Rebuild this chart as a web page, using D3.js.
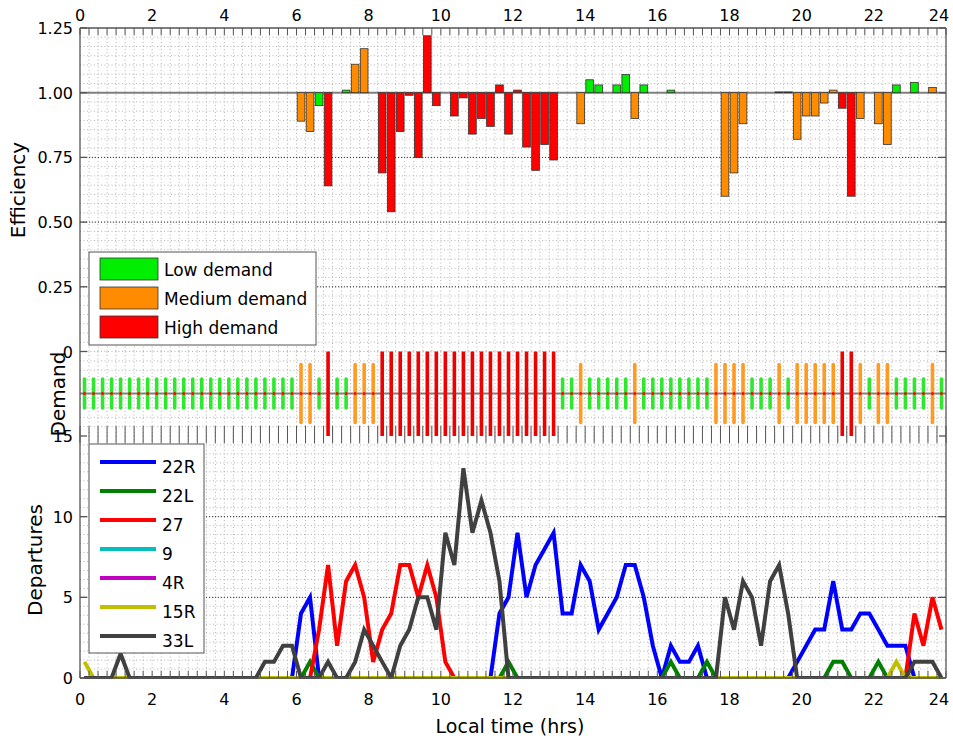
<!DOCTYPE html>
<html>
<head>
<meta charset="utf-8">
<script src="https://cdn.jsdelivr.net/npm/d3@7"></script>
<style>
    body { margin: 0; background: #fff; }
    svg text { font-family: "DejaVu Sans", sans-serif; fill: #000; }
</style>
</head>
<body>
<div id="chart"></div>
<script>
// 15 minute slots over the day, values sit at the slot centre
const slotTimes = d3.range(96).map(i => 0.125 + i * 0.25);

// efficiency per slot (1 = no deviation, no bar drawn)
const efficiency = [
    1,1,1,1, 1,1,1,1, 1,1,1,1, 1,1,1,1, 1,1,1,1, 1,1,1,1,
    0.89,0.85,0.95,0.64, 1,1.01,1.11,1.17, 1,0.69,0.54,0.85, 0.99,0.75,1.22,0.95, 1,0.91,0.98,0.84, 0.90,0.87,1.03,0.84,
    1.01,0.79,0.70,0.80, 0.74,1,1,0.88, 1.05,1.03,1,1.03, 1.07,0.90,1.03,1, 1,1.01,1,1, 1,1,1,0.60,
    0.69,0.88,1,1, 1,1.003,1.003,0.82, 0.91,0.91,0.96,1.01, 0.94,0.60,0.90,1, 0.88,0.80,1.03,1, 1.04,1,1.02,1
];

// demand level per slot: 1 low, 2 medium, 3 high
const demand = [
    1,1,1,1, 1,1,1,1, 1,1,1,1, 1,1,1,1, 1,1,1,1, 1,1,1,1,
    2,2,1,3, 1,1,2,2, 2,3,3,3, 3,3,3,3, 3,3,3,3, 3,3,3,3,
    3,3,3,3, 3,1,1,2, 1,1,1,1, 1,2,1,1, 1,1,1,1, 1,1,2,2,
    2,2,1,1, 1,2,1,2, 2,2,2,2, 3,3,2,1, 2,2,1,1, 1,1,2,1
];
const demandNames = ['Low demand', 'Medium demand', 'High demand'];
const demandColors = ['#00ee00', '#ff8c00', '#ff0000'];
const stemColors = ['#2ee82e', '#ff9a22', '#ee0000'];

// departures per slot for each runway
const runways = ['22R', '22L', '27', '9', '4R', '15R', '33L'];
const runwayColors = ['#0000ff', '#007f00', '#ff0000', '#00bfbf', '#bf00bf', '#bfbf00', '#404040'];
const dep22R = [
    0,0,0,0, 0,0,0,0, 0,0,0,0, 0,0,0,0, 0,0,0,0, 0,0,0,0,
    4,5,0,0, 0,0,0,0, 0,0,0,0, 0,0,0,0, 0,0,0,0, 0,0,4,5,
    9,5,7,8, 9,4,4,7, 6,3,4,5, 7,7,5,2, 0,2,1,1, 2,0,0,0,
    0,0,0,0, 0,0,0,1, 2,3,3,6, 3,3,4,4, 3,2,2,2, 0,0,0,0
];
const dep22L = [
    0,0,0,0, 0,0,0,0, 0,0,0,0, 0,0,0,0, 0,0,0,0, 0,0,0,0,
    0,1,0,0, 0,0,0,0, 0,0,0,0, 0,0,0,0, 0,0,0,0, 0,0,0,1,
    0,0,0,0, 0,0,0,0, 0,0,0,0, 0,0,0,0, 0,1,0,0, 0,1,0,0,
    0,0,0,0, 0,0,0,0, 0,0,0,1, 1,0,0,0, 1,0,0,0, 0,0,0,0
];
const dep27 = [
    0,0,0,0, 0,0,0,0, 0,0,0,0, 0,0,0,0, 0,0,0,0, 0,0,0,0,
    0,0,3,7, 2,6,7,5, 1,3,4,7, 7,5,7,5, 1,0,0,0, 0,0,0,0,
    0,0,0,0, 0,0,0,0, 0,0,0,0, 0,0,0,0, 0,0,0,0, 0,0,0,0,
    0,0,0,0, 0,0,0,0, 0,0,0,0, 0,0,0,0, 0,0,0,0, 4,2,5,3
];
const dep9 = [
    0,0,0,0, 0,0,0,0, 0,0,0,0, 0,0,0,0, 0,0,0,0, 0,0,0,0,
    0,0,0,0, 0,0,0,0, 0,0,0,0, 0,0,0,0, 0,0,0,0, 0,0,0,0,
    0,0,0,0, 0,0,0,0, 0,0,0,0, 0,0,0,0, 0,0,0,0, 0,0,0,0,
    0,0,0,0, 0,0,0,0, 0,0,0,0, 0,0,0,0, 0,0,0,0, 0,0,0,0
];
const dep4R = [
    0,0,0,0, 0,0,0,0, 0,0,0,0, 0,0,0,0, 0,0,0,0, 0,0,0,0,
    0,0,0,0, 0,0,0,0, 0,0,0,0, 0,0,0,0, 0,0,0,0, 0,0,0,0,
    0,0,0,0, 0,0,0,0, 0,0,0,0, 0,0,0,0, 0,0,0,0, 0,0,0,0,
    0,0,0,0, 0,0,0,0, 0,0,0,0, 0,0,0,0, 0,0,0,0, 0,0,0,0
];
const dep15R = [
    1,0,0,0, 0,0,0,0, 0,0,0,0, 0,0,0,0, 0,0,0,0, 0,0,0,0,
    0,0,0,0, 0,0,0,0, 0,0,0,0, 0,0,0,0, 0,0,0,0, 0,0,0,0,
    0,0,0,0, 0,0,0,0, 0,0,0,0, 0,0,0,0, 0,0,0,0, 0,0,0,0,
    0,0,0,0, 0,0,0,0, 0,0,0,0, 0,0,0,0, 0,0,1,0, 0,0,0,0
];
const dep33L = [
    0,0,0,0, 1.5,0,0,0, 0,0,0,0, 0,0,0,0, 0,0,0,0, 1,1,2,2,
    0,0,0,1, 0,0,1,3, 2,1,0,2, 3,5,5,3, 9,7,13,9, 11,9,6,0,
    0,0,0,0, 0,0,0,0, 0,0,0,0, 0,0,0,0, 0,0,0,0, 0,0,0,5,
    3,6,5,2, 6,7,4,0, 0,0,0,0, 0,0,0,0, 0,0,0,0, 1,1,1,0
];
const departures = [dep22R, dep22L, dep27, dep9, dep4R, dep15R, dep33L];

const hourTicks = [0, 2, 4, 6, 8, 10, 12, 14, 16, 18, 20, 22, 24];
const effTicks = [0, 0.25, 0.5, 0.75, 1, 1.25];
const effTickLabels = ['0', '0.25', '0.50', '0.75', '1.00', '1.25'];
const depTicks = [0, 5, 10, 15];

// ---- layout
const left = 80, right = 946;
const effTop = 28, effBottom = 351.5;
const demTop = 351.5, demBottom = 436;
const depTop = 436, depBottom = 678;

const svg = d3.select('#chart')
    .append('svg')
        .attr('width', 953)
        .attr('height', 738);

const x = d3.scaleLinear().domain([0, 24]).range([left, right]);
const yEff = d3.scaleLinear().domain([0, 1.25]).range([effBottom, effTop]);
const yDem = d3.scaleLinear().domain([-3, 3]).range([437, 350]);
const yDep = d3.scaleLinear().domain([0, 15]).range([depBottom, depTop]);

const defs = svg.append('defs');
defs.append('clipPath').attr('id', 'clipDem')
    .append('rect').attr('x', left).attr('y', demTop).attr('width', right - left).attr('height', demBottom - demTop);
defs.append('clipPath').attr('id', 'clipDep')
    .append('rect').attr('x', left).attr('y', depTop).attr('width', right - left).attr('height', depBottom - depTop + 1);

// dotted grid for one panel
function drawGrid(top, bottom, rows, majorRows){
    const g = svg.append('g');
    g.selectAll('line.vg')
        .data(d3.range(0.25, 24, 0.25))
        .enter()
        .append('line')
            .attr('x1', d => x(d)).attr('x2', d => x(d))
            .attr('y1', top).attr('y2', bottom)
            .attr('stroke', '#b4b4b4')
            .attr('stroke-dasharray', '1,2.5');
    g.selectAll('line.hg')
        .data(rows)
        .enter()
        .append('line')
            .attr('x1', left).attr('x2', right)
            .attr('y1', d => d).attr('y2', d => d)
            .attr('stroke', '#b4b4b4')
            .attr('stroke-dasharray', '1,2.5');
    g.selectAll('line.mg')
        .data(majorRows)
        .enter()
        .append('line')
            .attr('x1', left).attr('x2', right)
            .attr('y1', d => d).attr('y2', d => d)
            .attr('stroke', '#333')
            .attr('stroke-dasharray', '1,2');
}

drawGrid(effTop, effBottom,
    d3.range(0, 1.25, 0.25 / 7).map(yEff),
    [0.25, 0.5, 0.75].map(yEff));
drawGrid(demTop, demBottom, d3.range(demTop + 9.4, demBottom, 9.4), []);
drawGrid(depTop, depBottom,
    d3.range(0, 15, 5 / 9).map(yDep),
    [5, 10].map(yDep));

// ---- efficiency bars
const barW = 0.85 * (x(0.25) - x(0));
const bars = slotTimes
    .map((t, i) => ({t: t, v: efficiency[i], level: demand[i]}))
    .filter(d => d.v !== 1);

svg.append('line')
    .attr('x1', left).attr('x2', right)
    .attr('y1', yEff(1)).attr('y2', yEff(1))
    .attr('stroke', '#808080')
    .attr('stroke-width', 2);

svg.append('g').selectAll('rect')
    .data(bars)
    .enter()
    .append('rect')
        .attr('x', d => x(d.t) - barW / 2)
        .attr('width', barW)
        .attr('y', d => yEff(Math.max(d.v, 1)))
        .attr('height', d => Math.abs(yEff(d.v) - yEff(1)))
        .attr('fill', d => demandColors[d.level - 1])
        .attr('stroke', '#333')
        .attr('stroke-width', 0.8);

// ---- demand stems
const dem = svg.append('g').attr('clip-path', 'url(#clipDem)');
dem.append('line')
    .attr('x1', left).attr('x2', right)
    .attr('y1', yDem(0)).attr('y2', yDem(0))
    .attr('stroke', '#808080')
    .attr('stroke-width', 2);
dem.selectAll('line.stem')
    .data(demand)
    .enter()
    .append('line')
        .attr('x1', (d, i) => x(slotTimes[i])).attr('x2', (d, i) => x(slotTimes[i]))
        .attr('y1', d => yDem(-d)).attr('y2', d => yDem(d))
        .attr('stroke', d => stemColors[d - 1])
        .attr('stroke-width', 3.6)
        .attr('stroke-linecap', 'round');
dem.selectAll('circle')
    .data(demand)
    .enter()
    .append('circle')
        .attr('cx', (d, i) => x(slotTimes[i]))
        .attr('cy', yDem(0))
        .attr('r', 1.5)
        .attr('fill', '#ff0000');

// ---- departures lines
const line = d3.line()
    .x((d, i) => x(slotTimes[i]))
    .y(d => yDep(d));

svg.append('g').attr('clip-path', 'url(#clipDep)')
    .selectAll('path')
    .data(departures)
    .enter()
    .append('path')
        .attr('d', line)
        .attr('fill', 'none')
        .attr('stroke', (d, i) => runwayColors[i])
        .attr('stroke-width', 4)
        .attr('stroke-linejoin', 'miter');

// ---- frame and ticks
const axisColor = '#555';
const frame = svg.append('g').attr('stroke', axisColor).attr('stroke-width', 1.3);
frame.append('line').attr('x1', left).attr('x2', left).attr('y1', effTop).attr('y2', depBottom);
frame.append('line').attr('x1', right).attr('x2', right).attr('y1', effTop).attr('y2', depBottom);
frame.append('line').attr('x1', left).attr('x2', right).attr('y1', effTop).attr('y2', effTop);
frame.append('line').attr('x1', left).attr('x2', right).attr('y1', depBottom).attr('y2', depBottom);

const quarterTicks = d3.range(0, 24.01, 0.25);
[[effTop, 7], [demBottom, -10], [depTop, 7], [depBottom, -7]].forEach(([y0, len]) => {
    frame.selectAll(null)
        .data(quarterTicks)
        .enter()
        .append('line')
            .attr('x1', d => x(d)).attr('x2', d => x(d))
            .attr('y1', y0).attr('y2', y0 + len)
            .attr('stroke-width', 1);
});
[effTicks.map(yEff), depTicks.map(yDep)].forEach(ys => {
    frame.selectAll(null)
        .data(ys)
        .enter()
        .append('line')
            .attr('x1', left).attr('x2', left + 7)
            .attr('y1', d => d).attr('y2', d => d);
    frame.selectAll(null)
        .data(ys)
        .enter()
        .append('line')
            .attr('x1', right).attr('x2', right - 7)
            .attr('y1', d => d).attr('y2', d => d);
});

// tick labels (last hour label pulled in so it stays on the page)
const hourX = d => Math.min(x(d), 939);
svg.append('g').selectAll('text')
    .data(hourTicks)
    .enter()
    .append('text')
        .attr('x', hourX).attr('y', 21)
        .attr('text-anchor', 'middle')
        .style('font-size', '16px')
        .text(d => d);
svg.append('g').selectAll('text')
    .data(hourTicks)
    .enter()
    .append('text')
        .attr('x', hourX).attr('y', 705)
        .attr('text-anchor', 'middle')
        .style('font-size', '16px')
        .text(d => d);
svg.append('g').selectAll('text')
    .data(effTicks)
    .enter()
    .append('text')
        .attr('x', 73).attr('y', d => yEff(d) + 6)
        .attr('text-anchor', 'end')
        .style('font-size', '16px')
        .text((d, i) => effTickLabels[i]);
svg.append('g').selectAll('text')
    .data(depTicks)
    .enter()
    .append('text')
        .attr('x', 73).attr('y', d => yDep(d) + 6)
        .attr('text-anchor', 'end')
        .style('font-size', '16px')
        .text(d => d);

// axis titles
svg.append('text')
    .attr('transform', 'translate(25,190) rotate(-90)')
    .attr('text-anchor', 'middle')
    .style('font-size', '20px')
    .text('Efficiency');
svg.append('text')
    .attr('transform', 'translate(65,394) rotate(-90)')
    .attr('text-anchor', 'middle')
    .style('font-size', '20px')
    .text('Demand');
svg.append('text')
    .attr('transform', 'translate(42,560) rotate(-90)')
    .attr('text-anchor', 'middle')
    .style('font-size', '20px')
    .text('Departures');
svg.append('text')
    .attr('x', 510).attr('y', 733)
    .attr('text-anchor', 'middle')
    .style('font-size', '19px')
    .text('Local time (hrs)');

// ---- demand legend
const leg1 = svg.append('g').attr('transform', 'translate(89,252)');
leg1.append('rect')
    .attr('width', 227).attr('height', 93)
    .attr('fill', '#fff').attr('stroke', '#555').attr('stroke-width', 1);
leg1.selectAll('rect.sw')
    .data(demandNames)
    .enter()
    .append('rect')
        .attr('x', 11).attr('y', (d, i) => 6 + i * 29)
        .attr('width', 58).attr('height', 22)
        .attr('fill', (d, i) => demandColors[i])
        .attr('stroke', '#333').attr('stroke-width', 0.8);
leg1.selectAll('text')
    .data(demandNames)
    .enter()
    .append('text')
        .attr('x', 75).attr('y', (d, i) => 24 + i * 29)
        .style('font-size', '17px')
        .text(d => d);

// ---- runway legend
const leg2 = svg.append('g').attr('transform', 'translate(89,444)');
leg2.append('rect')
    .attr('width', 115).attr('height', 209)
    .attr('fill', '#fff').attr('stroke', '#555').attr('stroke-width', 1);
leg2.selectAll('line')
    .data(runways)
    .enter()
    .append('line')
        .attr('x1', 11).attr('x2', 67)
        .attr('y1', (d, i) => 18 + i * 29).attr('y2', (d, i) => 18 + i * 29)
        .attr('stroke', (d, i) => runwayColors[i])
        .attr('stroke-width', 4);
leg2.selectAll('text')
    .data(runways)
    .enter()
    .append('text')
        .attr('x', 73).attr('y', (d, i) => 29 + i * 29)
        .style('font-size', '17px')
        .text(d => d);
</script>
</body>
</html>
